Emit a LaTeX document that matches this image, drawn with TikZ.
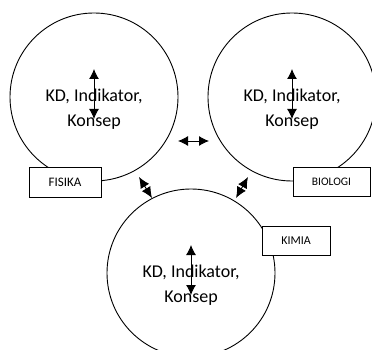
\documentclass[tikz,border=0pt]{standalone}
\usepackage{fontspec}
\setmainfont{Carlito}
\usetikzlibrary{arrows.meta}

\tikzset{
	lingkaran/.style={circle, draw, line width=0.9pt, minimum size=168pt, inner sep=0pt},
	teks/.style={align=center, font=\fontsize{18}{25}\selectfont, inner sep=0pt},
	kotak/.style={draw, fill=white, line width=0.9pt, inner sep=0pt},
	panah/.style={{Latex[length=10pt,width=10pt]}-{Latex[length=10pt,width=10pt]}, line width=0.9pt},
	panahkecil/.style={{Latex[length=11pt,width=10pt]}-{Latex[length=11pt,width=10pt]}, line width=0.9pt}
}

\begin{document}
\begin{tikzpicture}[x=1pt, y=-1pt]
	\useasboundingbox (0,0) rectangle (372,350);
	\clip (0,0) rectangle (372,350);
	
	% tiga lingkaran mata pelajaran
	\foreach \nama/\cx/\cy in {fis/94/97, bio/292/97, kim/191/273} {
		\node[lingkaran] (\nama) at (\cx,\cy) {};
		\coordinate (\nama-atas) at (\cx,\cy-28);
		\coordinate (\nama-bawah) at (\cx,\cy+22);
		\draw[panah] (\nama-atas) -- (\nama-bawah);
		\node[teks] (\nama-teks) at (\cx,\cy+12.5) {KD, Indikator,\\Konsep};
	}
	
	% panah antar lingkaran
	\coordinate (h1) at (178,141);
	\coordinate (h2) at (209,141);
	\draw[panah] (h1) -- (h2);
	\coordinate (d1) at (139,177);
	\coordinate (d2) at (152,198);
	\draw[panahkecil] (d1) -- (d2);
	\coordinate (d3) at (248,177);
	\coordinate (d4) at (236,198);
	\draw[panahkecil] (d3) -- (d4);
	
	% label
	\node[kotak, minimum width=72pt, minimum height=30pt, font=\fontsize{13}{13}\selectfont] (fisika) at (65,182) {FISIKA};
	\node[kotak, minimum width=77pt, minimum height=29pt, font=\fontsize{11.5}{11.5}\selectfont] (biologi) at (331.5,181.5) {BIOLOGI};
	\node[kotak, minimum width=68pt, minimum height=29pt, font=\fontsize{12}{12}\selectfont] (kimia) at (296,240.5) {KIMIA};
\end{tikzpicture}
\end{document}
